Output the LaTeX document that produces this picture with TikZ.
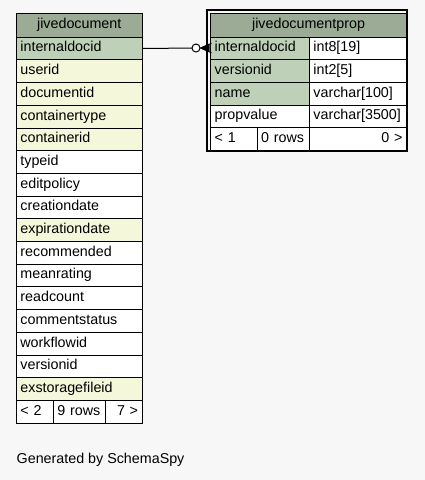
\documentclass[tikz,border=0pt]{standalone}
\usepackage{fontspec}
\setmainfont{Liberation Sans}
\definecolor{bg}{HTML}{F7F7F7}
\definecolor{hdr}{HTML}{9BAB96}
\definecolor{pk}{HTML}{BED1B8}
\definecolor{idx}{HTML}{F4F7DA}
\tikzset{
  cell/.style={draw, line width=0.8pt, fill=#1, inner xsep=4pt, inner ysep=0pt, minimum height=22.7pt,
    text height=10pt, text depth=3pt, anchor=north west, align=left},
  lcell/.style={cell=#1, text width=117.7pt},
  hdrcell/.style={draw, line width=0.8pt, fill=hdr, inner sep=0pt, anchor=north west, align=center,
    text height=10pt, text depth=3pt},
}
\begin{document}
\begin{tikzpicture}[x=1pt, y=-1pt, font=\fontsize{14.3}{16}\selectfont]

  \useasboundingbox[fill=bg] (0,0) rectangle (425,480);

  % jivedocument
  \node[hdrcell, minimum width=125.7pt, minimum height=23.4pt] (jd) at (16,13.3) {jivedocument};
  \foreach \name/\fillc [count=\i from 0] in {internaldocid/pk, userid/idx, documentid/idx,
      containertype/idx, containerid/idx, typeid/white, editpolicy/white, creationdate/white,
      expirationdate/idx, recommended/white, meanrating/white, readcount/white,
      commentstatus/white, workflowid/white, versionid/white, exstoragefileid/idx}
    \node[lcell=\fillc] (jd-\name) at (16,{36.7+22.7*\i}) {\name};
  \node[cell=white, text width=29pt] (jd-prev) at (16,400) {< 2};
  \node[cell=white, text width=44pt] (jd-rows) at (53,400) {9 rows};
  \node[cell=white, text width=28.7pt, align=right] (jd-next) at (105,400) {7 >};

  % jivedocumentprop
  \draw[line width=2pt] (207.3,10.3) rectangle (407.3,151.3);
  \node[hdrcell, minimum width=195.7pt, minimum height=24pt] (jdp) at (210.3,12.7) {jivedocumentprop};
  \foreach \name/\type/\fillc [count=\i from 0] in {internaldocid/int8[19]/pk,
      versionid/int2[5]/pk, name/varchar[100]/pk, propvalue/varchar[3500]/white} {
    \node[cell=\fillc, text width=90.7pt] (jdp-\name) at (210.3,{36.7+22.65*\i}) {\name};
    \node[cell=white, text width=89pt] (jdp-\name-type) at (309,{36.7+22.65*\i}) {\type};
  }
  \node[cell=white, text width=38.4pt] (jdp-prev) at (210.3,127.3) {< 1};
  \node[cell=white, text width=44.3pt] (jdp-rows) at (256.7,127.3) {0 rows};
  \node[cell=white, text width=89pt, align=right] (jdp-next) at (309,127.3) {0 >};

  % relationship
  \coordinate (crow) at (200,48);
  \draw[line width=1pt] (jd-internaldocid.east) -- (crow);
  \draw[line width=1pt, fill=white] (196,48) circle (4);
  \fill (crow) -- (209.5,43.5) -- (209.5,52.5) -- cycle;
  \draw[line width=0.5pt] (crow) -- (212,43) (crow) -- (212,53);

  \node[anchor=base west, inner sep=0pt] (credit) at (16.5,463) {Generated by SchemaSpy};

\end{tikzpicture}
\end{document}
